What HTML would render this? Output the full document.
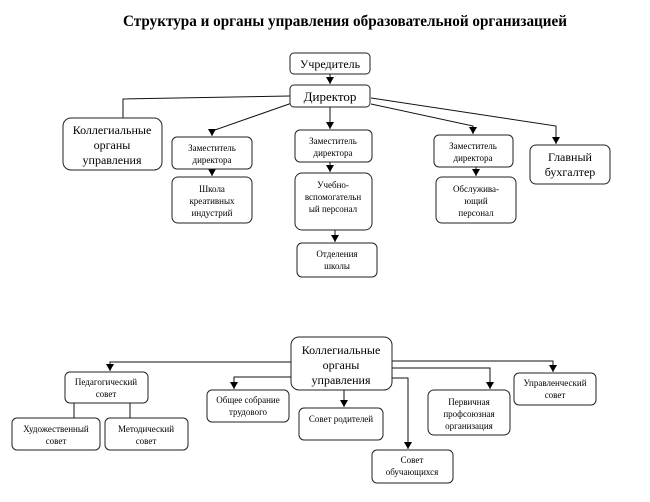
<!DOCTYPE html>
<html><head><meta charset="utf-8"><style>
body{margin:0;background:#fff;width:650px;height:497px;overflow:hidden}
text{font-family:"Liberation Serif",serif;fill:#000;text-anchor:middle}
rect{fill:#fff;stroke:#222;stroke-width:1}
line,polyline{stroke:#111;stroke-width:1;fill:none}
</style></head><body>
<svg width="650" height="497" viewBox="0 0 650 497" xmlns="http://www.w3.org/2000/svg">
<defs><marker id="a" markerWidth="8" markerHeight="8" refX="7" refY="4" orient="auto" markerUnits="userSpaceOnUse"><path d="M0,0 L7,4 L0,8 z" fill="#000"/></marker></defs>
<text x="345" y="26" font-size="15.5" font-weight="bold" textLength="444" lengthAdjust="spacingAndGlyphs">Структура  и органы управления образовательной  организацией</text>

<polyline points="330,73 330,84" marker-end="url(#a)"/>
<polyline points="290,96 123,99 123,118"/>
<polyline points="292,103 212,131 212,136" marker-end="url(#a)"/>
<polyline points="212,169 212,176" marker-end="url(#a)"/>
<polyline points="330,107 330,129" marker-end="url(#a)"/>
<polyline points="330,162 330,172" marker-end="url(#a)"/>
<polyline points="335,230 335,242" marker-end="url(#a)"/>
<polyline points="371,104 473,126 473,134" marker-end="url(#a)"/>
<polyline points="476,167 476,176" marker-end="url(#a)"/>
<polyline points="371,98 556,126 556,144" marker-end="url(#a)"/>

<rect x="290" y="53" width="80" height="21" rx="4"/>
<text x="330" y="68" font-size="12">Учредитель</text>
<rect x="290" y="85" width="80" height="22" rx="4"/>
<text x="330" y="101" font-size="13">Директор</text>
<rect x="63" y="118" width="99" height="52" rx="8"/>
<text x="112" y="134" font-size="12">Коллегиальные</text>
<text x="112" y="149" font-size="12">органы</text>
<text x="112" y="164" font-size="12">управления</text>
<rect x="172" y="137" width="80" height="32" rx="5"/>
<text x="212" y="151" font-size="9">Заместитель</text>
<text x="212" y="163" font-size="9">директора</text>
<rect x="172" y="177" width="80" height="46" rx="6"/>
<text x="212" y="192" font-size="9">Школа</text>
<text x="212" y="204" font-size="9">креативных</text>
<text x="212" y="216" font-size="9">индустрий</text>
<rect x="295" y="130" width="77" height="32" rx="5"/>
<text x="333" y="144" font-size="9">Заместитель</text>
<text x="333" y="156" font-size="9">директора</text>
<rect x="295" y="173" width="77" height="57" rx="7"/>
<text x="333" y="188" font-size="9">Учебно-</text>
<text x="333" y="200" font-size="9">вспомогательн</text>
<text x="333" y="212" font-size="9">ый персонал</text>
<rect x="297" y="243" width="80" height="34" rx="5"/>
<text x="337" y="257" font-size="9">Отделения</text>
<text x="337" y="269" font-size="9">школы</text>
<rect x="434" y="135" width="79" height="32" rx="5"/>
<text x="473" y="149" font-size="9">Заместитель</text>
<text x="473" y="161" font-size="9">директора</text>
<rect x="436" y="177" width="80" height="46" rx="6"/>
<text x="476" y="192" font-size="9">Обслужива-</text>
<text x="476" y="204" font-size="9">ющий</text>
<text x="476" y="216" font-size="9">персонал</text>
<rect x="530" y="145" width="80" height="39" rx="6"/>
<text x="570" y="161" font-size="12">Главный</text>
<text x="570" y="176" font-size="12">бухгалтер</text>

<polyline points="291,362 110,362 110,371" marker-end="url(#a)"/>
<line x1="74" y1="403" x2="74" y2="418"/>
<line x1="130" y1="403" x2="130" y2="418"/>
<polyline points="291,377 234,377 234,389" marker-end="url(#a)"/>
<polyline points="344,390 344,407" marker-end="url(#a)"/>
<polyline points="392,378 408,378 408,449" marker-end="url(#a)"/>
<polyline points="392,368 490,368 490,389" marker-end="url(#a)"/>
<polyline points="392,361 553,361 553,372" marker-end="url(#a)"/>

<rect x="291" y="337" width="101" height="53" rx="8"/>
<text x="341" y="354" font-size="12">Коллегиальные</text>
<text x="341" y="369" font-size="12">органы</text>
<text x="341" y="384" font-size="12">управления</text>
<rect x="65" y="372" width="83" height="31" rx="5"/>
<text x="106" y="385" font-size="9">Педагогический</text>
<text x="106" y="397" font-size="9">совет</text>
<rect x="12" y="418" width="88" height="32" rx="5"/>
<text x="56" y="432" font-size="9">Художественный</text>
<text x="56" y="444" font-size="9">совет</text>
<rect x="105" y="418" width="83" height="32" rx="5"/>
<text x="146" y="432" font-size="9">Методический</text>
<text x="146" y="444" font-size="9">совет</text>
<rect x="207" y="390" width="82" height="32" rx="5"/>
<text x="248" y="403" font-size="9">Общее собрание</text>
<text x="248" y="415" font-size="9">трудового</text>
<rect x="299" y="408" width="84" height="32" rx="5"/>
<text x="341" y="422" font-size="9">Совет родителей</text>
<rect x="372" y="450" width="81" height="33" rx="5"/>
<text x="412" y="463" font-size="9">Совет</text>
<text x="412" y="475" font-size="9">обучающихся</text>
<rect x="428" y="390" width="82" height="45" rx="6"/>
<text x="469" y="405" font-size="9">Первичная</text>
<text x="469" y="417" font-size="9">профсоюзная</text>
<text x="469" y="429" font-size="9">организация</text>
<rect x="514" y="373" width="82" height="32" rx="5"/>
<text x="555" y="386" font-size="9">Управленческий</text>
<text x="555" y="398" font-size="9">совет</text>
</svg>
</body></html>
